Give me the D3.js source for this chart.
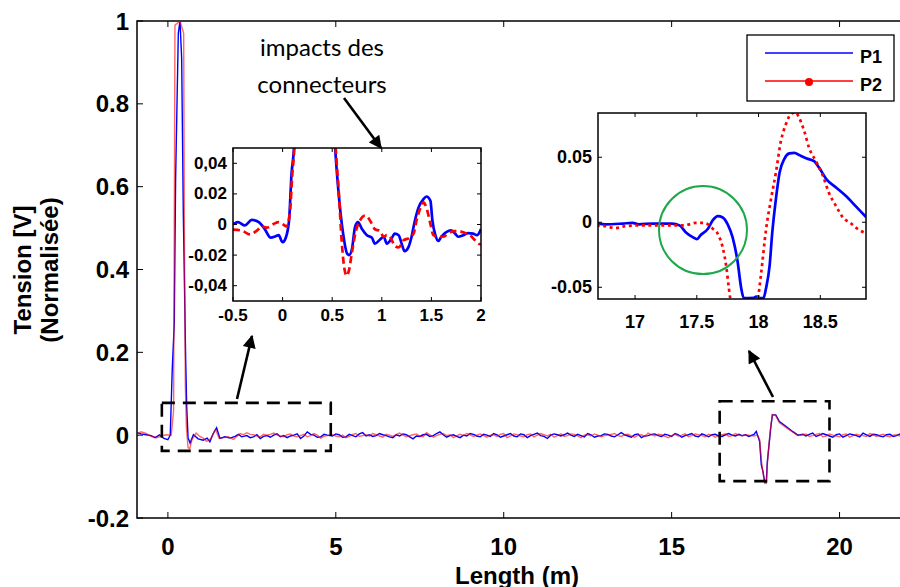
<!DOCTYPE html>
<html><head><meta charset="utf-8">
<script src="https://cdn.jsdelivr.net/npm/d3@7"></script>
<style>body{margin:0;background:#fff}svg{display:block}</style>
</head><body>
<svg id="chart" width="900" height="587"></svg>
<script>
// ---------------- DATA ----------------
const mainXTicks = [0, 5, 10, 15, 20];
const mainYTicks = [-0.2, 0, 0.2, 0.4, 0.6, 0.8, 1];
const mainYTickLabels = ["-0.2", "0", "0.2", "0.4", "0.6", "0.8", "1"];
const seriesNames = ["P1", "P2"];

// P1 (blue) full trace [length m, normalised tension]
const p1Main = [[-0.92,0.006],[-0.8,0.003],[-0.65,0.001],[-0.5,-0.001],[-0.38,-0.006],[-0.25,0.001],[-0.12,-0.008],[0.0,-0.011],[0.07,0.0],[0.13,0.16],[0.19,0.27],[0.23,0.62],[0.31,0.97],[0.36,1.0],[0.41,0.91],[0.46,0.53],[0.53,0.18],[0.56,0.07],[0.6,-0.006],[0.66,-0.019],[0.76,0.001],[0.9,-0.009],[1.05,-0.012],[1.17,-0.007],[1.25,-0.016],[1.35,0.004],[1.45,0.018],[1.55,-0.008],[1.7,-0.004],[1.85,-0.007],[2.0,-0.003],[2.1,0.002],[2.2,-0.004],[2.35,-0.001],[2.45,-0.006],[2.55,-0.004],[2.65,0.001],[2.75,-0.008],[2.85,-0.003],[2.95,-0.001],[3.05,-0.005],[3.15,0.0],[3.25,0.003],[3.35,-0.004],[3.45,-0.001],[3.55,-0.006],[3.65,-0.002],[3.75,0.0],[3.85,0.003],[3.95,-0.008],[4.05,-0.002],[4.15,0.008],[4.25,0.002],[4.35,0.0],[4.45,-0.005],[4.55,-0.004],[4.65,0.002],[4.75,0.0],
[4.9,-0.002],[5.0,0.003],[5.1,0.001],[5.2,-0.005],[5.3,-0.004],[5.4,0.002],[5.5,-0.001],[5.6,-0.004],[5.7,0.003],[5.8,0.006],[5.9,-0.002],[6.0,0.001],[6.1,-0.003],[6.2,-0.001],[6.3,0.004],[6.4,0.001],[6.5,-0.001],[6.6,-0.004],[6.7,-0.006],[6.8,0.001],[6.9,-0.002],[7.0,0.003],[7.1,0.001],[7.2,-0.004],[7.3,-0.009],[7.4,-0.002],[7.5,-0.003],[7.6,0.001],[7.7,0.002],[7.8,-0.003],[7.9,-0.001],[8.0,0.004],[8.1,0.008],[8.2,0.001],[8.3,-0.005],[8.4,-0.001],[8.5,0.001],[8.6,-0.003],[8.7,-0.006],[8.8,0.0],[8.9,-0.002],[9.0,0.004],[9.1,0.002],[9.2,-0.002],[9.3,-0.004],[9.4,0.002],[9.5,0.0],[9.6,-0.003],[9.7,0.004],[9.8,0.001],[9.9,-0.005],[10.0,-0.002],[10.1,0.001],[10.2,0.004],[10.3,-0.002],[10.4,-0.004],[10.5,0.003],[10.6,0.001],[10.7,-0.006],[10.8,-0.001],[10.9,0.002],[11.0,0.005],[11.1,-0.001],[11.2,-0.003],[11.3,-0.008],[11.4,0.0],[11.5,0.003],[11.6,0.001],[11.7,-0.002],[11.8,0.001],[11.9,0.005],[12.0,0.0],[12.1,-0.003],[12.2,0.002],[12.3,-0.001],[12.4,-0.004],[12.5,0.004],[12.6,0.001],[12.7,-0.005],[12.8,-0.002],[12.9,-0.001],[13.0,0.003],[13.1,0.002],[13.2,-0.002],[13.3,-0.004],[13.4,0.001],[13.5,0.006],[13.6,0.001],[13.7,-0.002],[13.8,-0.005],[13.9,0.001],[14.0,0.003],[14.1,-0.006],[14.2,-0.002],[14.3,-0.001],[14.4,0.002],[14.5,0.003],[14.6,-0.001],[14.7,-0.003],[14.8,0.002],[14.9,0.0],[15.0,-0.003],[15.1,0.004],[15.2,0.001],[15.3,-0.005],[15.4,-0.001],[15.5,0.001],[15.6,0.004],[15.7,-0.002],[15.8,-0.004],[15.9,0.003],[16.0,0.0],[16.1,-0.004],[16.2,0.001],[16.3,0.002],[16.4,-0.002],[16.5,-0.003],[16.6,0.001],[16.7,0.004],[16.8,0.0],[16.9,-0.002],[17.0,0.002],[17.1,-0.001],[17.2,0.001],[17.3,-0.003],[17.45,0.002],[17.52,0.009],[17.62,-0.015],[17.67,-0.072],[17.72,-0.088],[17.77,-0.113],[17.82,-0.113],[17.85,-0.064],[17.9,-0.024],[17.95,0.017],[18.0,0.049],[18.1,0.049],[18.21,0.033],[18.41,0.021],[18.6,0.009],[18.76,0.0],[18.91,0.002],[19.0,-0.002],[19.1,0.002],[19.2,0.005],[19.3,-0.003],[19.4,0.0],[19.5,0.004],[19.6,0.001],[19.7,-0.002],[19.8,-0.005],[19.9,0.001],[20.0,0.003],[20.1,-0.005],[20.2,-0.001],[20.3,0.003],[20.4,0.001],[20.5,-0.001],[20.6,-0.004],[20.7,0.005],[20.8,0.001],[20.9,-0.003],[21.0,0.002],[21.1,0.001],[21.2,-0.002],[21.3,-0.004],[21.4,0.001],[21.5,0.002],[21.6,-0.003],[21.7,-0.001],[21.8,0.003]];

// P2 (red) full trace
const p2Main = [[-0.92,0.002],[-0.8,0.008],[-0.65,0.004],[-0.5,-0.003],[-0.33,-0.006],[-0.2,-0.002],[-0.05,0.001],[0.1,0.0],[0.17,0.06],[0.19,0.5],[0.21,0.99],[0.36,1.0],[0.47,0.97],[0.49,0.5],[0.52,0.12],[0.55,0.02],[0.6,-0.03],[0.65,-0.033],[0.72,-0.01],[0.84,0.005],[0.95,-0.003],[1.05,-0.007],[1.15,-0.015],[1.27,-0.009],[1.42,0.014],[1.52,-0.007],[1.67,-0.006],[1.8,-0.004],[1.95,-0.01],[2.05,-0.003],[2.15,0.004],[2.25,0.001],[2.35,0.006],[2.45,0.002],[2.55,0.001],[2.65,-0.002],[2.75,-0.004],[2.85,0.002],[2.95,0.0],[3.05,0.002],[3.15,0.005],[3.25,0.001],[3.35,-0.002],[3.45,-0.004],[3.55,0.001],[3.65,0.003],[3.75,-0.002],[3.85,-0.004],[3.95,-0.001],[4.05,0.002],[4.15,-0.004],[4.25,-0.001],[4.35,0.004],[4.45,0.0],[4.55,-0.007],[4.65,-0.003],[4.75,-0.001],
[4.9,0.001],[5.0,-0.002],[5.1,-0.004],[5.2,0.0],[5.3,-0.006],[5.4,-0.003],[5.5,0.002],[5.6,0.004],[5.7,-0.003],[5.8,-0.001],[5.9,0.001],[6.0,-0.002],[6.1,0.004],[6.2,0.001],[6.3,-0.002],[6.4,-0.005],[6.5,0.002],[6.6,0.0],[6.7,-0.003],[6.8,0.002],[6.9,0.005],[7.0,0.0],[7.1,-0.004],[7.2,-0.001],[7.3,0.001],[7.4,0.003],[7.5,-0.002],[7.6,-0.004],[7.7,0.006],[7.8,0.001],[7.9,-0.005],[8.0,-0.001],[8.1,0.002],[8.2,0.004],[8.3,-0.001],[8.4,0.001],[8.5,-0.006],[8.6,-0.002],[8.7,0.002],[8.8,-0.001],[8.9,0.004],[9.0,0.001],[9.1,-0.003],[9.2,0.0],[9.3,0.003],[9.4,-0.001],[9.5,-0.005],[9.6,0.0],[9.7,0.001],[9.8,-0.003],[9.9,0.002],[10.0,0.004],[10.1,-0.006],[10.2,-0.002],[10.3,0.003],[10.4,0.001],[10.5,-0.002],[10.6,-0.004],[10.7,0.001],[10.8,0.003],[10.9,-0.004],[11.0,0.0],[11.1,0.004],[11.2,0.001],[11.3,-0.002],[11.4,0.002],[11.5,-0.005],[11.6,-0.001],[11.7,0.003],[11.8,-0.003],[11.9,-0.001],[12.0,0.003],[12.1,0.002],[12.2,-0.002],[12.3,-0.006],[12.4,0.0],[12.5,0.001],[12.6,-0.002],[12.7,0.003],[12.8,0.0],[12.9,-0.004],[13.0,-0.001],[13.1,0.0],[13.2,0.002],[13.3,0.004],[13.4,-0.001],[13.5,-0.003],[13.6,0.001],[13.7,0.002],[13.8,-0.002],[13.9,-0.005],[14.0,0.0],[14.1,0.001],[14.2,-0.003],[14.3,0.005],[14.4,0.001],[14.5,-0.002],[14.6,0.002],[14.7,0.001],[14.8,-0.003],[14.9,-0.006],[15.0,-0.001],[15.1,0.002],[15.2,-0.002],[15.3,0.0],[15.4,0.003],[15.5,-0.004],[15.6,-0.001],[15.7,0.003],[15.8,0.001],[15.9,-0.001],[16.0,-0.004],[16.1,0.002],[16.2,0.0],[16.3,-0.005],[16.4,-0.001],[16.5,0.001],[16.6,0.003],[16.7,-0.003],[16.8,-0.001],[16.9,0.004],[17.0,0.0],[17.1,-0.002],[17.2,0.001],[17.3,0.0],[17.45,-0.002],[17.55,0.0],[17.62,-0.01],[17.67,-0.06],[17.72,-0.09],[17.77,-0.116],[17.82,-0.116],[17.85,-0.07],[17.9,-0.02],[17.95,0.02],[18.0,0.05],[18.1,0.047],[18.21,0.03],[18.41,0.018],[18.6,0.008],[18.76,-0.001],[18.91,0.001],[19.0,0.003],[19.1,-0.003],[19.2,-0.001],[19.3,0.002],[19.4,0.004],[19.5,-0.004],[19.6,-0.002],[19.7,0.003],[19.8,0.0],[19.9,-0.002],[20.0,-0.004],[20.1,0.001],[20.2,0.003],[20.3,-0.005],[20.4,-0.001],[20.5,0.002],[20.6,0.0],[20.7,-0.001],[20.8,-0.003],[20.9,0.004],[21.0,0.001],[21.1,-0.003],[21.2,0.0],[21.3,0.002],[21.4,-0.002],[21.5,-0.004],[21.6,0.0],[21.7,0.001],[21.8,-0.002]];

// Inset 1 (connector impacts)
const inset1XTicks = [-0.5, 0, 0.5, 1, 1.5, 2];
const inset1XTickLabels = ["-0.5", "0", "0.5", "1", "1.5", "2"];
const inset1YTicks = [0.04, 0.02, 0, -0.02, -0.04];
const inset1YTickLabels = ["0,04", "0.02", "0", "-0.02", "-0,04"];
const p1Inset1 = [[-0.5,0.0],[-0.45,0.0015],[-0.38,-0.0006],[-0.31,0.003],[-0.24,0.0015],[-0.18,-0.003],[-0.12,-0.0086],[-0.07,-0.0077],[-0.04,-0.007],[0.0,-0.0116],[0.03,-0.009],[0.065,0.0026],[0.09,0.033],[0.115,0.05],[0.14,0.09],[0.3,0.4],[0.5,0.09],[0.53,0.05],[0.56,0.024],[0.61,-0.006],[0.65,-0.019],[0.67,-0.02],[0.7,-0.0157],[0.73,-0.0017],[0.76,0.0015],[0.8,-0.003],[0.85,-0.007],[0.9,-0.0086],[0.93,-0.0125],[0.98,-0.01],[1.02,-0.008],[1.05,-0.0125],[1.1,-0.009],[1.13,-0.006],[1.17,-0.007],[1.2,-0.0125],[1.23,-0.0174],[1.27,-0.0146],[1.3,-0.008],[1.33,0.0015],[1.37,0.011],[1.42,0.0166],[1.45,0.0183],[1.49,0.0155],[1.51,0.0026],[1.54,-0.007],[1.57,-0.0108],[1.6,-0.008],[1.65,-0.005],[1.7,-0.0039],[1.74,-0.006],[1.77,-0.008],[1.82,-0.007],[1.87,-0.0056],[1.92,-0.006],[1.96,-0.007],[2.0,-0.003]];
const p2Inset1 = [[-0.5,-0.0034],[-0.41,-0.004],[-0.33,-0.0065],[-0.26,-0.004],[-0.21,-0.0013],[-0.16,-0.002],[-0.09,0.0004],[-0.04,0.0015],[0.007,0.0],[0.04,-0.0013],[0.075,0.009],[0.098,0.033],[0.118,0.05],[0.14,0.09],[0.3,0.4],[0.5,0.09],[0.535,0.05],[0.57,0.0176],[0.595,-0.0103],[0.62,-0.0275],[0.646,-0.0335],[0.67,-0.0297],[0.7,-0.0178],[0.74,-0.004],[0.78,0.0026],[0.83,0.0058],[0.86,0.0047],[0.9,0.0004],[0.93,-0.003],[0.98,-0.0043],[1.02,-0.008],[1.05,-0.007],[1.08,-0.0077],[1.13,-0.014],[1.17,-0.015],[1.22,-0.0103],[1.27,-0.009],[1.32,-0.006],[1.35,0.0026],[1.39,0.011],[1.42,0.0144],[1.45,0.011],[1.49,0.0004],[1.52,-0.007],[1.57,-0.008],[1.62,-0.008],[1.67,-0.006],[1.72,-0.0043],[1.77,-0.0043],[1.84,-0.0056],[1.89,-0.007],[1.94,-0.0103],[1.99,-0.0129],[2.0,-0.0125]];

// Inset 2 (defect zone)
const inset2XTicks = [17, 17.5, 18, 18.5];
const inset2XTickLabels = ["17", "17.5", "18", "18.5"];
const inset2YTicks = [-0.05, 0, 0.05];
const inset2YTickLabels = ["-0.05", "0", "0.05"];
const p1Inset2 = [[16.69,-0.001],[16.76,-0.0016],[16.9,-0.001],[16.98,-0.0005],[17.03,-0.0016],[17.14,-0.001],[17.25,-0.001],[17.3,-0.001],[17.36,-0.0024],[17.41,-0.0076],[17.47,-0.0116],[17.5,-0.013],[17.53,-0.01],[17.59,-0.005],[17.63,0.0016],[17.67,0.0047],[17.71,0.0037],[17.75,-0.0016],[17.79,-0.0116],[17.83,-0.03],[17.86,-0.051],[17.88,-0.0582],[17.92,-0.0583],[17.96,-0.0582],[17.98,-0.0572],[18.0,-0.0583],[18.04,-0.0582],[18.06,-0.051],[18.09,-0.033],[18.11,-0.009],[18.14,0.0174],[18.17,0.038],[18.21,0.049],[18.25,0.053],[18.29,0.0534],[18.33,0.0516],[18.39,0.049],[18.45,0.047],[18.49,0.042],[18.55,0.033],[18.63,0.0266],[18.71,0.02],[18.79,0.012],[18.87,0.004]];
const p2Inset2 = [[16.69,-0.0024],[16.76,-0.003],[16.84,-0.0045],[16.92,-0.003],[17.03,-0.0024],[17.14,-0.0024],[17.3,-0.0024],[17.38,-0.0024],[17.44,-0.0016],[17.49,-0.0005],[17.55,-0.0005],[17.59,-0.0016],[17.63,-0.005],[17.67,-0.009],[17.71,-0.0195],[17.74,-0.035],[17.76,-0.051],[17.79,-0.07],[17.85,-0.095],[17.93,-0.095],[17.98,-0.07],[18.02,-0.04],[18.06,-0.006],[18.1,0.0174],[18.14,0.038],[18.18,0.062],[18.22,0.075],[18.26,0.083],[18.3,0.0845],[18.33,0.08],[18.37,0.07],[18.41,0.057],[18.47,0.046],[18.52,0.036],[18.57,0.0226],[18.63,0.012],[18.68,0.004],[18.75,-0.001],[18.8,-0.005],[18.87,-0.0084]];

// highlighted zones in main plot [x0, x1, y0, y1]
const zoneConnectors = [-0.18, 4.85, -0.038, 0.078];
const zoneDefect = [16.43, 19.7, -0.111, 0.082];
// green circle centre in inset 2 data coords
const defectCircle = [17.55, -0.006];

// ---------------- DRAW ----------------
const svg = d3.select("#chart");
const FONT = "'Liberation Sans', Arial, Helvetica, sans-serif";
const BLUE = "#0000ff", RED = "#ff0000";

const x = d3.scaleLinear().domain([-0.92, 21.8]).range([137, 900]);
const y = d3.scaleLinear().domain([-0.2, 1]).range([518, 21]);

const defs = svg.append("defs");
defs.append("clipPath").attr("id","clipMain").append("rect")
  .attr("x",137).attr("y",21).attr("width",763).attr("height",497);
defs.append("marker").attr("id","arrow").attr("viewBox","0 0 10 10")
  .attr("refX",9).attr("refY",5).attr("markerWidth",5.6).attr("markerHeight",5)
  .attr("orient","auto").attr("markerUnits","strokeWidth")
  .append("path").attr("d","M0,0 L10,5 L0,10 z").attr("fill","#000");

const g = svg.append("g");
g.append("rect").attr("x",137).attr("y",21).attr("width",780).attr("height",497)
  .attr("fill","none").attr("stroke","#000").attr("stroke-width",1.5);

mainXTicks.forEach(t=>{
  g.append("line").attr("x1",x(t)).attr("x2",x(t)).attr("y1",518).attr("y2",512).attr("stroke","#000");
  g.append("line").attr("x1",x(t)).attr("x2",x(t)).attr("y1",21).attr("y2",27).attr("stroke","#000");
  g.append("text").attr("x",x(t)).attr("y",546).attr("text-anchor","middle").attr("dominant-baseline","central")
    .attr("font-family",FONT).attr("font-weight","bold").attr("font-size",24).text(t);
});
mainYTicks.forEach((t,i)=>{
  g.append("line").attr("x1",137).attr("x2",143).attr("y1",y(t)).attr("y2",y(t)).attr("stroke","#000");
  g.append("text").attr("x",129).attr("y",y(t)).attr("text-anchor","end").attr("dominant-baseline","central")
    .attr("font-family",FONT).attr("font-weight","bold").attr("font-size",24).text(mainYTickLabels[i]);
});
g.append("text").attr("x",517).attr("y",575).attr("text-anchor","middle").attr("dominant-baseline","central")
  .attr("font-family",FONT).attr("font-weight","bold").attr("font-size",24).text("Length (m)");
const yt = g.append("text").attr("transform","translate(0,270) rotate(-90)")
  .attr("text-anchor","middle").attr("font-family",FONT).attr("font-weight","bold").attr("font-size",24);
yt.append("tspan").attr("x",0).attr("y",31).text("Tension [V]");
yt.append("tspan").attr("x",0).attr("y",58).text("(Normalisée)");

const lineMain = d3.line().x(d=>x(d[0])).y(d=>y(d[1]));
const mainG = g.append("g").attr("clip-path","url(#clipMain)");
mainG.append("path").datum(p1Main).attr("d",lineMain).attr("fill","none").attr("stroke",BLUE).attr("stroke-width",1.4);
mainG.append("path").datum(p2Main).attr("d",lineMain).attr("fill","none").attr("stroke",RED).attr("stroke-width",1.4).attr("stroke-opacity",0.6);

[zoneConnectors, zoneDefect].forEach(z=>{
  g.append("rect").attr("x",x(z[0])).attr("y",y(z[3])).attr("width",x(z[1])-x(z[0])).attr("height",y(z[2])-y(z[3]))
    .attr("fill","none").attr("stroke","#000").attr("stroke-width",2.6).attr("stroke-dasharray","13,8");
});

function inset(cfg){
  const ix = d3.scaleLinear().domain(cfg.xd).range(cfg.xr);
  const iy = d3.scaleLinear().domain(cfg.yd).range(cfg.yr);
  const ig = svg.append("g");
  const w = cfg.xr[1]-cfg.xr[0], h = cfg.yr[0]-cfg.yr[1];
  ig.append("rect").attr("x",cfg.xr[0]).attr("y",cfg.yr[1]).attr("width",w).attr("height",h).attr("fill","#fff");
  defs.append("clipPath").attr("id",cfg.id).append("rect").attr("x",cfg.xr[0]).attr("y",cfg.yr[1]).attr("width",w).attr("height",h);
  const ln = d3.line().x(d=>ix(d[0])).y(d=>iy(d[1])).curve(d3.curveMonotoneX);
  const lg = ig.append("g").attr("clip-path",`url(#${cfg.id})`);
  lg.append("path").datum(cfg.s1).attr("d",ln).attr("fill","none").attr("stroke",BLUE).attr("stroke-width",2.7);
  lg.append("path").datum(cfg.s2).attr("d",ln).attr("fill","none").attr("stroke",RED).attr("stroke-width",2.7).attr("stroke-dasharray",cfg.dash);
  if(cfg.extra) cfg.extra(lg, ix, iy);
  ig.append("rect").attr("x",cfg.xr[0]).attr("y",cfg.yr[1]).attr("width",w).attr("height",h)
    .attr("fill","none").attr("stroke","#000").attr("stroke-width",1.5);
  cfg.xt.forEach((t,i)=>{
    ig.append("line").attr("x1",ix(t)).attr("x2",ix(t)).attr("y1",cfg.yr[0]).attr("y2",cfg.yr[0]-4).attr("stroke","#000");
    ig.append("line").attr("x1",ix(t)).attr("x2",ix(t)).attr("y1",cfg.yr[1]).attr("y2",cfg.yr[1]+4).attr("stroke","#000");
    ig.append("text").attr("x",ix(t)).attr("y",cfg.yr[0]+cfg.xlOff).attr("text-anchor","middle").attr("dominant-baseline","central")
      .attr("font-family",FONT).attr("font-weight","bold").attr("font-size",cfg.fs).text(cfg.xtl[i]);
  });
  cfg.yt.forEach((t,i)=>{
    ig.append("line").attr("x1",cfg.xr[0]).attr("x2",cfg.xr[0]+4).attr("y1",iy(t)).attr("y2",iy(t)).attr("stroke","#000");
    ig.append("line").attr("x1",cfg.xr[1]).attr("x2",cfg.xr[1]-4).attr("y1",iy(t)).attr("y2",iy(t)).attr("stroke","#000");
    ig.append("text").attr("x",cfg.xr[0]-6).attr("y",iy(t)).attr("text-anchor","end").attr("dominant-baseline","central")
      .attr("font-family",FONT).attr("font-weight","bold").attr("font-size",cfg.fs).text(cfg.ytl[i]);
  });
}

inset({id:"clipI1", xd:[-0.5,2], xr:[233,481], yd:[-0.05,0.05], yr:[301,148],
  s1:p1Inset1, s2:p2Inset1, dash:"7,4", xt:inset1XTicks, xtl:inset1XTickLabels,
  yt:inset1YTicks, ytl:inset1YTickLabels, fs:17, xlOff:14});

inset({id:"clipI2", xd:[16.7,18.87], xr:[598,866], yd:[-0.059,0.084], yr:[299,113],
  s1:p1Inset2, s2:p2Inset2, dash:"3,3.5", xt:inset2XTicks, xtl:inset2XTickLabels,
  yt:inset2YTicks, ytl:inset2YTickLabels, fs:18, xlOff:23,
  extra:(lg,ix,iy)=>{
    lg.append("circle").attr("cx",ix(defectCircle[0])).attr("cy",iy(defectCircle[1])).attr("r",44)
      .attr("fill","none").attr("stroke","#1fa84a").attr("stroke-width",2);
  }});

const ann = svg.append("text").attr("text-anchor","middle").attr("font-family","Lato, 'Open Sans', sans-serif")
  .attr("font-size",24).attr("fill","#000");
ann.append("tspan").attr("x",322).attr("y",56).text("impacts des");
ann.append("tspan").attr("x",322).attr("y",93).text("connecteurs");

[[344,98,381,148],[237,399,252,336],[773,397,749,351]].forEach(a=>{
  svg.append("line").attr("x1",a[0]).attr("y1",a[1]).attr("x2",a[2]).attr("y2",a[3])
    .attr("stroke","#000").attr("stroke-width",2.6).attr("marker-end","url(#arrow)");
});

const lgd = svg.append("g");
lgd.append("rect").attr("x",747).attr("y",35).attr("width",147).attr("height",66)
  .attr("fill","#fff").attr("stroke","#000").attr("stroke-width",1.3);
[[BLUE,53,false],[RED,81,true]].forEach((r,i)=>{
  lgd.append("line").attr("x1",765).attr("x2",853).attr("y1",r[1]).attr("y2",r[1]).attr("stroke",r[0]).attr("stroke-width",1.3);
  if(r[2]) lgd.append("circle").attr("cx",809).attr("cy",r[1]+1).attr("r",4).attr("fill",r[0]);
  lgd.append("text").attr("x",860).attr("y",r[1]+4).attr("dominant-baseline","central").attr("font-family",FONT)
    .attr("font-weight","bold").attr("font-size",18).text(seriesNames[i]);
});
</script>
</body></html>
